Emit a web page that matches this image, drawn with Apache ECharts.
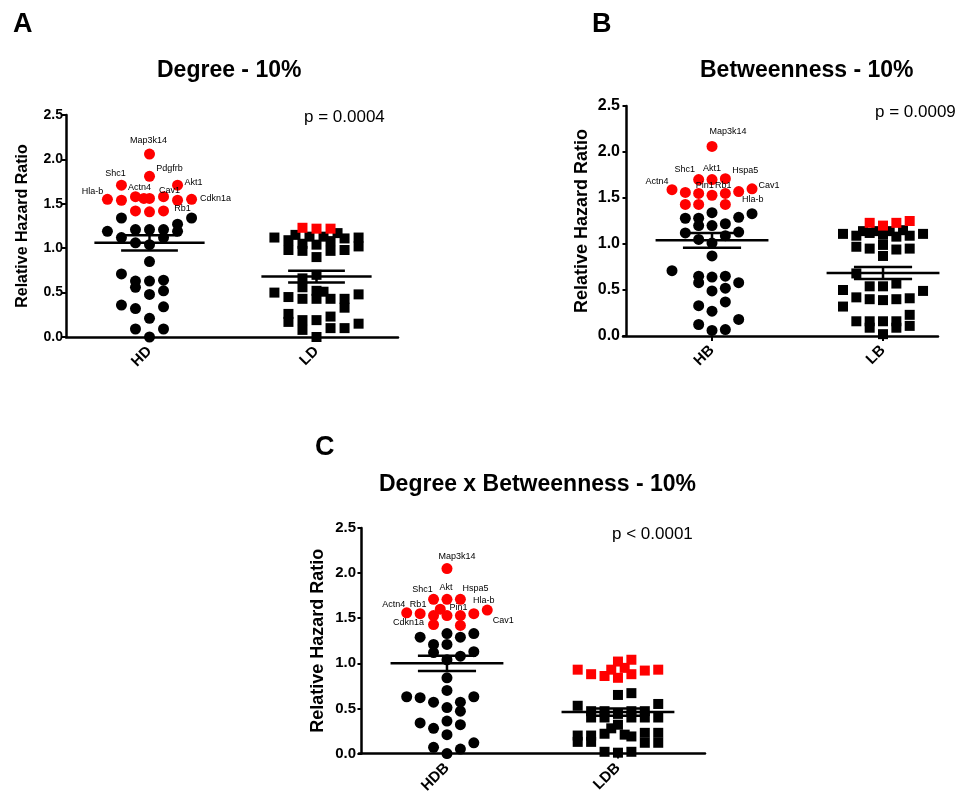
<!DOCTYPE html>
<html>
<head>
<meta charset="utf-8">
<script src="https://cdn.jsdelivr.net/npm/echarts@6.0.0/dist/echarts.min.js"></script>
<style>
  html, body { margin: 0; padding: 0; background: #fff; }
  #chart { width: 966px; height: 796px; }
</style>
</head>
<body>
<div id="chart"></div>
<script>
// [jitter slot, relative hazard ratio]
var hdRed = [[0, 2.06], [0, 1.81], [-2, 1.71], [2, 1.71], [-3, 1.55], [-2, 1.54], [-1, 1.58], [-0.4, 1.56],
    [0, 1.56], [1, 1.58], [2, 1.54], [3, 1.55], [-1, 1.42], [0, 1.41], [1, 1.42]];
var hdRedNames = ['Map3k14', 'Pdgfrb', 'Shc1', 'Akt1', 'Hla-b', '', 'Actn4', '', '', 'Cav1', '', 'Cdkn1a', '', '', 'Rb1'];
var hdBlack = [[-2, 1.34], [3, 1.34], [2, 1.27], [-3, 1.19], [-1, 1.21], [0, 1.21], [1, 1.21], [2, 1.19], [-2, 1.12],
    [1, 1.12], [-1, 1.06], [0, 1.04], [0, 0.85], [-2, 0.71], [-1, 0.63], [0, 0.63], [1, 0.64], [-1, 0.56], [1, 0.52],
    [0, 0.48], [-2, 0.36], [-1, 0.32], [1, 0.34], [0, 0.21], [-1, 0.09], [1, 0.09], [0, 0.0]];
var ldRed = [[-1, 1.23], [0, 1.22], [1, 1.22]];
var ldBlack = [[-3, 1.12], [-2, 1.09], [-1.5, 1.15], [-1, 1.05], [-0.5, 1.13], [0, 1.04], [0.5, 1.13], [1, 1.08],
    [1.5, 1.17], [2, 1.11], [3, 1.12], [3, 1.02], [-2, 0.98], [-1, 0.97], [1, 0.97], [2, 0.98], [0, 0.90],
    [-1, 0.66], [0, 0.70], [-3, 0.50], [-1, 0.56], [0, 0.52], [0.5, 0.51], [3, 0.48], [-2, 0.45], [-1, 0.43],
    [0, 0.43], [1, 0.43], [2, 0.43], [2, 0.33], [-2, 0.26], [-2, 0.17], [-1, 0.19], [-1, 0.08], [0, 0.19],
    [1, 0.23], [1, 0.10], [2, 0.10], [3, 0.15], [0, 0.0]];

var hbRed = [[0, 2.06], [-1, 1.70], [0, 1.70], [1, 1.71], [-3, 1.59], [-2, 1.56], [-1, 1.55], [0, 1.53], [1, 1.55],
    [2, 1.57], [3, 1.60], [-2, 1.43], [-1, 1.43], [1, 1.43]];
var hbRedNames = ['Map3k14', 'Shc1', 'Akt1', 'Hspa5', 'Actn4', '', 'Pin1', '', 'Rb1', 'Hla-b', 'Cav1', '', '', ''];
var hbBlack = [[-2, 1.28], [-1, 1.28], [0, 1.34], [-1, 1.20], [0, 1.20], [1, 1.22], [2, 1.29], [3, 1.33], [-2, 1.12],
    [2, 1.13], [-1, 1.05], [0, 1.01], [1, 1.09], [0, 0.87], [-3, 0.71], [-1, 0.65], [-1, 0.58], [0, 0.64], [1, 0.65],
    [2, 0.58], [0, 0.49], [1, 0.52], [-1, 0.33], [1, 0.37], [0, 0.27], [2, 0.18], [-1, 0.125], [0, 0.06], [1, 0.07]];
var lbRed = [[-1, 1.23], [0, 1.20], [1, 1.23], [2, 1.25]];
var lbBlack = [[-3, 1.11], [3, 1.11], [-2, 1.09], [-1.5, 1.14], [-1, 1.12], [-0.5, 1.14], [0, 1.10], [0.5, 1.14],
    [1, 1.08], [1.5, 1.15], [2, 1.09], [-2, 0.97], [-1, 0.95], [0, 0.99], [1, 0.94], [2, 0.95], [0, 0.87],
    [-2, 0.68], [-3, 0.50], [3, 0.49], [-1, 0.54], [0, 0.54], [1, 0.57], [-2, 0.42], [-1, 0.40], [0, 0.39],
    [1, 0.40], [2, 0.41], [-3, 0.32], [2, 0.23], [-2, 0.16], [-1, 0.16], [-1, 0.09], [0, 0.16], [1, 0.16],
    [1, 0.09], [2, 0.11], [0, 0.02]];

var hdbRed = [[0, 2.05], [-1, 1.71], [0, 1.71], [1, 1.71], [-3, 1.56], [-2, 1.55], [-0.5, 1.60], [1, 1.53],
    [2, 1.55], [3, 1.59], [-1, 1.53], [0, 1.53], [-1, 1.43], [1, 1.42]];
var hdbRedNames = ['Map3k14', 'Shc1', 'Akt', 'Hspa5', 'Actn4', 'Rb1', '', 'Pin1', 'Hla-b', 'Cav1', '', '', 'Cdkn1a', ''];
var hdbBlack = [[0, 1.33], [2, 1.33], [-2, 1.29], [1, 1.29], [-1, 1.21], [0, 1.21], [-1, 1.12], [2, 1.13], [0, 1.04],
    [1, 1.08], [0, 0.84], [0, 0.70], [-3, 0.63], [-2, 0.62], [2, 0.63], [-1, 0.57], [1, 0.57], [0, 0.51], [1, 0.47],
    [-2, 0.34], [0, 0.36], [-1, 0.28], [1, 0.32], [0, 0.21], [-1, 0.07], [1, 0.05], [2, 0.12], [0, 0.0]];
var ldbRed = [[-3, 0.93], [-2, 0.88], [-1, 0.86], [-0.5, 0.93], [0, 1.02], [0, 0.84], [0.5, 0.95], [1, 1.04],
    [1, 0.88], [2, 0.92], [3, 0.93]];
var ldbBlack = [[0, 0.65], [1, 0.67], [-3, 0.53], [3, 0.55], [-2, 0.47], [-2, 0.40], [-1, 0.47], [-1, 0.40], [0, 0.44],
    [1, 0.47], [1, 0.40], [2, 0.47], [2, 0.40], [3, 0.40], [0, 0.32], [-0.5, 0.28], [-1, 0.22], [0.5, 0.21], [1, 0.19],
    [-3, 0.20], [-3, 0.13], [-2, 0.20], [-2, 0.13], [2, 0.23], [2, 0.12], [3, 0.23], [3, 0.12], [-1, 0.02], [0, 0.01],
    [1, 0.02]];

// mean and SEM per group
var meansA = [1.06, 0.68], semsA = [0.085, 0.065];
var meansB = [1.04, 0.685], semsB = [0.08, 0.065];
var meansC = [1.00, 0.46], semsC = [0.085, 0.04];

var catsA = ['HD', 'LD'], catsB = ['HB', 'LB'], catsC = ['HDB', 'LDB'];
var titles = ['Degree - 10%', 'Betweenness - 10%', 'Degree x Betweenness - 10%'];
var pTexts = ['p = 0.0004', 'p = 0.0009', 'p < 0.0001'];

// label offsets (px, from point centre) for named red points
var labelOffsets = [
    { 'Map3k14': [-1, -14], 'Pdgfrb': [20, -8], 'Shc1': [-6, -12], 'Akt1': [16, -3], 'Hla-b': [-15, -8],
      'Actn4': [4, -9], 'Cav1': [6, -6], 'Cdkn1a': [24, -1], 'Rb1': [19, -2] },
    { 'Map3k14': [16, -15], 'Shc1': [-14, -10], 'Akt1': [0, -11], 'Hspa5': [20, -8], 'Actn4': [-15, -8],
      'Pin1': [6, -8], 'Rb1': [-2, -8], 'Hla-b': [14, 8], 'Cav1': [17, -3] },
    { 'Map3k14': [10, -12], 'Shc1': [-11, -10], 'Akt': [-1, -12], 'Hspa5': [15, -11], 'Actn4': [-13, -8],
      'Rb1': [-2, -9], 'Pin1': [-2, -8], 'Hla-b': [10, -13], 'Cdkn1a': [-25, -2], 'Cav1': [16, 10] }
];

var FONT = "'Liberation Sans', Arial, sans-serif";
var DOT = 11, SQ = 10;

var panels = [
    { grid: { left: 66, top: 115, width: 332, height: 222 }, xMin: 0, xMax: 3.976, slot: 0.168,
      cats: catsA, means: meansA, sems: semsA, hiRed: hdRed, hiNames: hdRedNames, hiBlack: hdBlack,
      loRed: ldRed, loBlack: ldBlack, tick: 14, nameSize: 16, nameGap: 35 },
    { grid: { left: 623, top: 106, width: 315, height: 230 }, xMin: -0.041, xMax: 3.643, slot: 0.156,
      cats: catsB, means: meansB, sems: semsB, hiRed: hbRed, hiNames: hbRedNames, hiBlack: hbBlack,
      loRed: lbRed, loBlack: lbBlack, tick: 16, nameSize: 18, nameGap: 32 },
    { grid: { left: 359, top: 528, width: 346, height: 229 }, xMin: -0.029, xMax: 4.018, slot: 0.157,
      cats: catsC, means: meansC, sems: semsC, hiRed: hdbRed, hiNames: hdbRedNames, hiBlack: hdbBlack,
      loRed: ldbRed, loBlack: ldbBlack, tick: 15, nameSize: 18, nameGap: 32 }
];

var centers = [1, 3];

function place(group, center, slot) {
    return group.map(function (p) { return [center + p[0] * slot, p[1]]; });
}

function renderMean(params, api) {
    var c = api.value(0), m = api.value(1), s = api.value(2);
    var half = 0.66, cap = 0.34;
    var a = api.coord([c - half, m]), b = api.coord([c + half, m]);
    var tl = api.coord([c - cap, m + s]), tr = api.coord([c + cap, m + s]);
    var bl = api.coord([c - cap, m - s]), br = api.coord([c + cap, m - s]);
    var st = { stroke: '#000', lineWidth: 2.5 };
    return {
        type: 'group',
        children: [
            { type: 'line', shape: { x1: a[0], y1: a[1], x2: b[0], y2: b[1] }, style: st },
            { type: 'line', shape: { x1: tl[0], y1: tl[1], x2: tr[0], y2: tr[1] }, style: st },
            { type: 'line', shape: { x1: bl[0], y1: bl[1], x2: br[0], y2: br[1] }, style: st },
            { type: 'line', shape: { x1: (tl[0] + tr[0]) / 2, y1: tl[1], x2: (bl[0] + br[0]) / 2, y2: bl[1] }, style: st }
        ]
    };
}

var grids = [], xAxes = [], yAxes = [], series = [];

panels.forEach(function (pn, i) {
    grids.push(pn.grid);
    xAxes.push({
        type: 'value', gridIndex: i, min: pn.xMin, max: pn.xMax,
        splitLine: { show: false },
        axisLine: { show: true, lineStyle: { color: '#000', width: 2.5 } },
        axisTick: { show: true, customValues: centers, length: 5, lineStyle: { color: '#000', width: 2 } },
        axisLabel: {
            customValues: centers, rotate: 45, margin: 12,
            fontFamily: FONT, fontWeight: 'bold', fontSize: 15, color: '#000',
            formatter: function (v) { return v < 2 ? pn.cats[0] : pn.cats[1]; }
        }
    });
    yAxes.push({
        type: 'value', gridIndex: i, min: 0, max: 2.5, interval: 0.5,
        name: 'Relative Hazard Ratio', nameLocation: 'middle', nameGap: pn.nameGap,
        nameTextStyle: { fontFamily: FONT, fontWeight: 'bold', fontSize: pn.nameSize, color: '#000' },
        splitLine: { show: false },
        axisLine: { show: true, lineStyle: { color: '#000', width: 2.5 } },
        axisTick: { show: true, length: 4, lineStyle: { color: '#000', width: 2 } },
        axisLabel: {
            margin: 3, fontFamily: FONT, fontWeight: 'bold', fontSize: pn.tick, color: '#000',
            formatter: function (v) { return v.toFixed(1); }
        }
    });

    var offs = labelOffsets[i];
    var redData = place(pn.hiRed, centers[0], pn.slot).map(function (pt, k) {
        var nm = pn.hiNames[k];
        var item = { value: pt };
        if (nm) {
            var o = offs[nm];
            item.label = {
                show: true, formatter: nm,
                position: [DOT / 2 + o[0], DOT / 2 + o[1]], align: 'center', verticalAlign: 'middle'
            };
        }
        return item;
    });

    series.push({
        type: 'scatter', xAxisIndex: i, yAxisIndex: i, symbol: 'circle', symbolSize: DOT,
        itemStyle: { color: '#000', opacity: 1 }, data: place(pn.hiBlack, centers[0], pn.slot), z: 2
    });
    series.push({
        type: 'scatter', xAxisIndex: i, yAxisIndex: i, symbol: 'circle', symbolSize: DOT,
        itemStyle: { color: '#f00', opacity: 1 }, data: redData, z: 3,
        label: { fontFamily: FONT, fontSize: 9, color: '#000' }
    });
    series.push({
        type: 'scatter', xAxisIndex: i, yAxisIndex: i, symbol: 'rect', symbolSize: SQ,
        itemStyle: { color: '#000', opacity: 1 }, data: place(pn.loBlack, centers[1], pn.slot), z: 2
    });
    series.push({
        type: 'scatter', xAxisIndex: i, yAxisIndex: i, symbol: 'rect', symbolSize: SQ,
        itemStyle: { color: '#f00', opacity: 1 }, data: place(pn.loRed, centers[1], pn.slot), z: 3
    });
    series.push({
        type: 'custom', xAxisIndex: i, yAxisIndex: i, renderItem: renderMean, z: 5, silent: true,
        data: centers.map(function (c, k) { return [c, pn.means[k], pn.sems[k]]; })
    });
});

var textBase = { fontFamily: FONT, color: '#000' };
var titleList = [
    { text: 'A', left: 13, top: 11, textStyle: Object.assign({ fontSize: 27, fontWeight: 'bold' }, textBase) },
    { text: 'B', left: 592, top: 11, textStyle: Object.assign({ fontSize: 27, fontWeight: 'bold' }, textBase) },
    { text: 'C', left: 315, top: 434, textStyle: Object.assign({ fontSize: 27, fontWeight: 'bold' }, textBase) },
    { text: titles[0], left: 157, top: 59, textStyle: Object.assign({ fontSize: 23, fontWeight: 'bold' }, textBase) },
    { text: titles[1], left: 700, top: 59, textStyle: Object.assign({ fontSize: 23, fontWeight: 'bold' }, textBase) },
    { text: titles[2], left: 379, top: 473, textStyle: Object.assign({ fontSize: 23, fontWeight: 'bold' }, textBase) },
    { text: pTexts[0], left: 304, top: 109, textStyle: Object.assign({ fontSize: 17, fontWeight: 'normal' }, textBase) },
    { text: pTexts[1], left: 875, top: 104, textStyle: Object.assign({ fontSize: 17, fontWeight: 'normal' }, textBase) },
    { text: pTexts[2], left: 612, top: 526, textStyle: Object.assign({ fontSize: 17, fontWeight: 'normal' }, textBase) }
];
titleList.forEach(function (t) { t.padding = 0; });

var chart = echarts.init(document.getElementById('chart'));
chart.setOption({
    animation: false,
    backgroundColor: '#fff',
    title: titleList,
    grid: grids,
    xAxis: xAxes,
    yAxis: yAxes,
    series: series
});
</script>
</body>
</html>
